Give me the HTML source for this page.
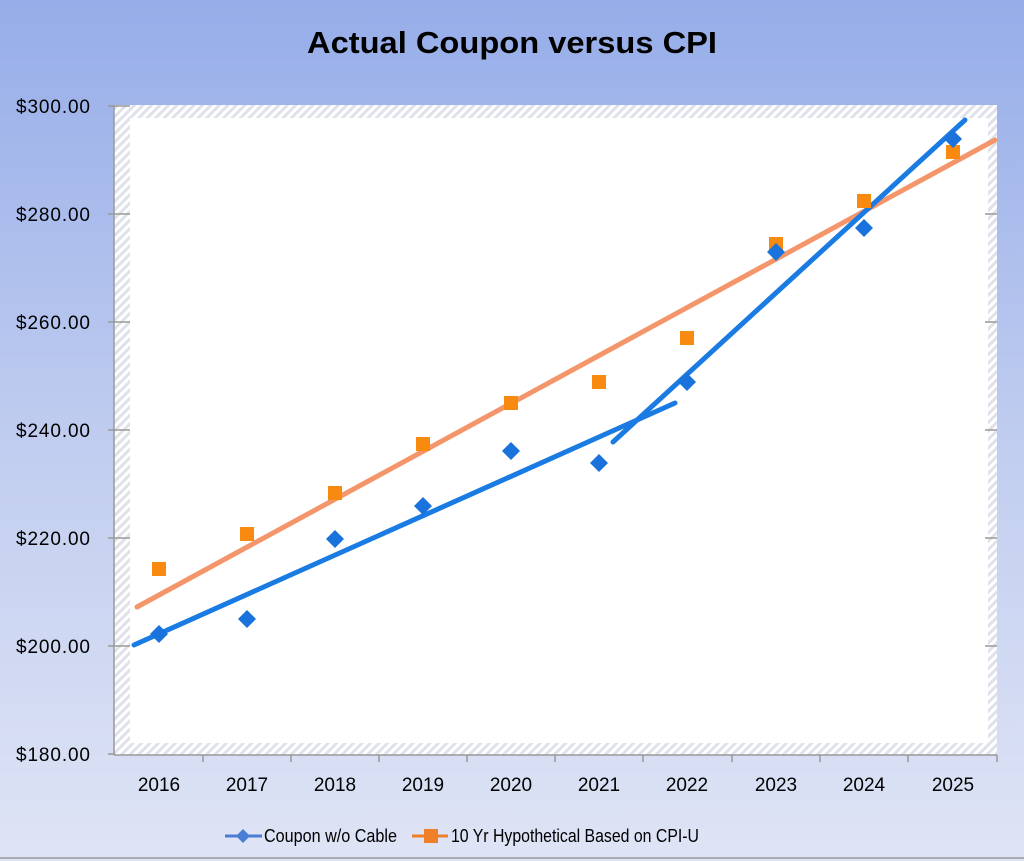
<!DOCTYPE html>
<html><head><style>
html,body{margin:0;padding:0}
body{width:1024px;height:861px;overflow:hidden;background:linear-gradient(#96ade9,#c3cff0 55%,#dfe4f5);font-family:"Liberation Sans",sans-serif}
</style></head><body>
<svg width="1024" height="861" xmlns="http://www.w3.org/2000/svg" style="position:absolute;left:0;top:0">
<defs>
<pattern id="h" width="6" height="6" patternUnits="userSpaceOnUse" patternTransform="rotate(45)">
<rect width="6" height="6" fill="#fff"/><rect width="3" height="6" fill="#dfe2ea"/>
</pattern>
</defs>
<text x="307" y="53" textLength="410" lengthAdjust="spacingAndGlyphs" font-size="31" font-weight="bold" fill="#000">Actual Coupon versus CPI</text>
<rect x="114" y="105" width="883" height="650" fill="url(#h)"/>
<rect x="130" y="118" width="858" height="625" fill="#fff"/>
<g stroke="#999" stroke-width="1.5">
<line x1="114" y1="105" x2="114" y2="755"/>
<line x1="114" y1="755" x2="997" y2="755"/>
<line x1="108" y1="106" x2="130" y2="106"/><line x1="108" y1="214" x2="130" y2="214"/><line x1="108" y1="322" x2="130" y2="322"/><line x1="108" y1="430" x2="130" y2="430"/><line x1="108" y1="538" x2="130" y2="538"/><line x1="108" y1="646" x2="130" y2="646"/><line x1="108" y1="754" x2="114" y2="754"/>
<line x1="985" y1="214" x2="997" y2="214"/><line x1="985" y1="322" x2="997" y2="322"/><line x1="985" y1="430" x2="997" y2="430"/><line x1="985" y1="538" x2="997" y2="538"/><line x1="985" y1="646" x2="997" y2="646"/>
<line x1="203" y1="755" x2="203" y2="762"/><line x1="291" y1="755" x2="291" y2="762"/><line x1="379" y1="755" x2="379" y2="762"/><line x1="467" y1="755" x2="467" y2="762"/><line x1="555" y1="755" x2="555" y2="762"/><line x1="643" y1="755" x2="643" y2="762"/><line x1="732" y1="755" x2="732" y2="762"/><line x1="820" y1="755" x2="820" y2="762"/><line x1="908" y1="755" x2="908" y2="762"/><line x1="997" y1="755" x2="997" y2="762"/>
</g>
<line x1="0" y1="858" x2="1024" y2="858" stroke="#999" stroke-width="1.5"/>
<g font-size="19" fill="#000">
<text x="16" y="113" textLength="74">$300.00</text><text x="16" y="221" textLength="74">$280.00</text><text x="16" y="329" textLength="74">$260.00</text><text x="16" y="437" textLength="74">$240.00</text><text x="16" y="545" textLength="74">$220.00</text><text x="16" y="653" textLength="74">$200.00</text><text x="16" y="761" textLength="74">$180.00</text>
</g>
<g font-size="19" fill="#000" text-anchor="middle">
<text x="159" y="791">2016</text><text x="247" y="791">2017</text><text x="335" y="791">2018</text><text x="423" y="791">2019</text><text x="511" y="791">2020</text><text x="599" y="791">2021</text><text x="687" y="791">2022</text><text x="776" y="791">2023</text><text x="864" y="791">2024</text><text x="953" y="791">2025</text>
</g>
<g stroke-linecap="round" stroke-width="5" fill="none">
<line x1="137" y1="607" x2="995" y2="140" stroke="#f4956a"/>
<line x1="134" y1="645" x2="675" y2="403" stroke="#1a7be3"/>
<line x1="613" y1="442" x2="965" y2="120" stroke="#1a7be3"/>
</g>
<g fill="#f78a0f">
<rect x="152" y="562" width="14" height="14"/><rect x="240" y="527" width="14" height="14"/><rect x="328" y="486" width="14" height="14"/><rect x="416" y="437" width="14" height="14"/><rect x="504" y="396" width="14" height="14"/><rect x="592" y="375" width="14" height="14"/><rect x="680" y="331" width="14" height="14"/><rect x="769" y="237" width="14" height="14"/><rect x="857" y="194" width="14" height="14"/><rect x="946" y="145" width="14" height="14"/>
</g>
<g fill="#1a73dc">
<path d="M159 625l9 9-9 9-9-9z"/><path d="M247 610l9 9-9 9-9-9z"/><path d="M335 530l9 9-9 9-9-9z"/><path d="M423 497l9 9-9 9-9-9z"/><path d="M511 442l9 9-9 9-9-9z"/><path d="M599 454l9 9-9 9-9-9z"/><path d="M687 373l9 9-9 9-9-9z"/><path d="M776 243l9 9-9 9-9-9z"/><path d="M864 219l9 9-9 9-9-9z"/><path d="M953 130l9 9-9 9-9-9z"/>
</g>
<line x1="225" y1="836" x2="262" y2="836" stroke="#4a7dd6" stroke-width="3"/>
<path d="M243 829l7 7-7 7-7-7z" fill="#4a7dd6"/>
<text x="264" y="842" font-size="18" textLength="133" lengthAdjust="spacingAndGlyphs">Coupon w/o Cable</text>
<line x1="412" y1="836" x2="448" y2="836" stroke="#f07f2a" stroke-width="3"/>
<rect x="424" y="829" width="14" height="14" fill="#f07f2a"/>
<text x="451" y="842" font-size="18" textLength="248" lengthAdjust="spacingAndGlyphs">10 Yr Hypothetical Based on CPI-U</text>
</svg>
</body></html>
